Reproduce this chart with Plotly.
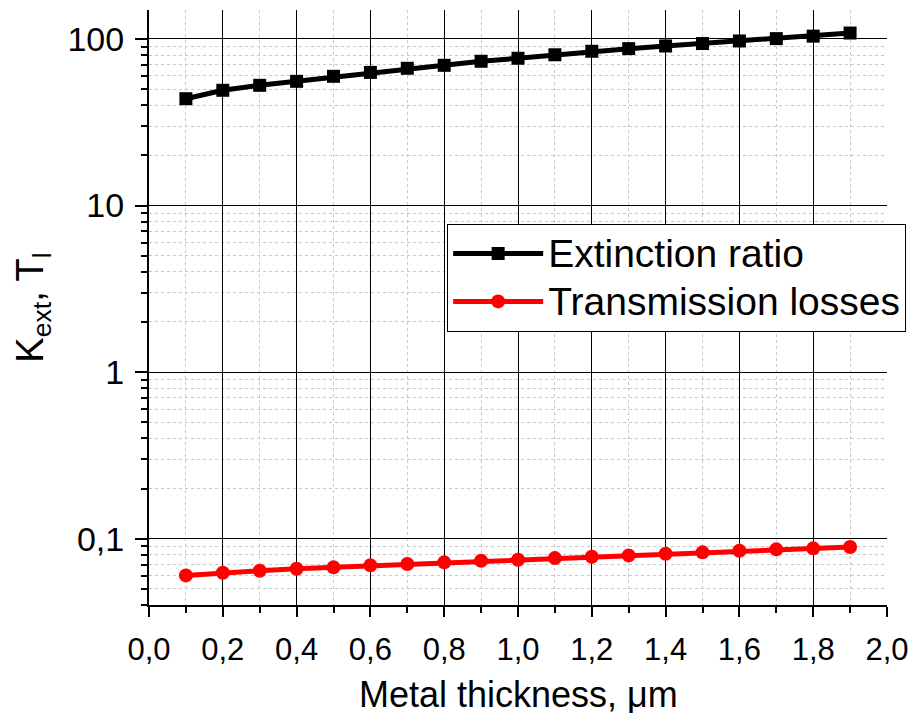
import plotly.graph_objects as go

thickness = [0.1, 0.2, 0.3, 0.4, 0.5, 0.6, 0.7, 0.8, 0.9, 1.0,
             1.1, 1.2, 1.3, 1.4, 1.5, 1.6, 1.7, 1.8, 1.9]
extinction_ratio = [43.8, 49.2, 52.7, 55.7, 59.7, 63.0, 66.7, 69.5, 73.5, 76.6,
                    80.4, 84.4, 87.5, 90.8, 93.9, 97.3, 100.5, 104.0, 108.6]
transmission_losses = [0.0602, 0.0625, 0.0642, 0.0660, 0.0673, 0.0692, 0.0705, 0.0721,
                       0.0738, 0.0748, 0.0765, 0.0780, 0.0794, 0.0813, 0.0828, 0.0847,
                       0.0863, 0.0875, 0.0891]
series_names = ["Extinction ratio", "Transmission losses"]
x_title = "Metal thickness, μm"
y_title = "K<sub>ext</sub>, T<sub>l</sub>"

x_tick_vals = [0.0, 0.2, 0.4, 0.6, 0.8, 1.0, 1.2, 1.4, 1.6, 1.8, 2.0]
x_minor_vals = [0.1, 0.3, 0.5, 0.7, 0.9, 1.1, 1.3, 1.5, 1.7, 1.9]
y_tick_vals = [0.1, 1, 10, 100]
y_tick_text = ["0,1", "1", "10", "100"]
y_minor_vals = [m * d for d in [0.01, 0.1, 1, 10, 100] for m in range(2, 10)]

FONT = "Liberation Sans, Arial, sans-serif"
LEG_TEXT = '<span style="font-size:39px">{}</span>'

fig = go.Figure()
fig.add_trace(go.Scatter(
    x=thickness, y=extinction_ratio, name=LEG_TEXT.format(series_names[0]),
    mode="lines+markers",
    line=dict(color="black", width=5),
    marker=dict(symbol="square", size=13, color="black"),
))
fig.add_trace(go.Scatter(
    x=thickness, y=transmission_losses, name=LEG_TEXT.format(series_names[1]),
    mode="lines+markers",
    line=dict(color="#ff0000", width=5),
    marker=dict(symbol="circle", size=14, color="#ff0000"),
))

fig.update_layout(
    width=916, height=713,
    margin=dict(l=149, r=25, t=10, b=108),
    paper_bgcolor="white", plot_bgcolor="white",
    separators=", ",
    font=dict(family=FONT, color="black"),
    showlegend=True,
    legend=dict(
        x=0.404, y=0.641, xanchor="left", yanchor="top",
        xref="paper", yref="paper",
        bordercolor="black", borderwidth=1, bgcolor="white",
        font=dict(size=34.5, family=FONT, color="black"),
        itemwidth=90,
        tracegroupgap=0,
    ),
    annotations=[dict(
        text=x_title, xref="paper", yref="paper", x=0.5, y=-0.1125,
        xanchor="center", yanchor="top", showarrow=False,
        font=dict(size=36, family=FONT, color="black"),
    )],
)

fig.update_xaxes(
    range=[0, 2.0],
    automargin=False,
    tickvals=x_tick_vals, tickformat=".1f",
    tickfont=dict(size=31, family=FONT, color="black"),
    ticks="outside", ticklen=10, tickwidth=2, tickcolor="black",
    showline=True, linecolor="black", linewidth=2,
    showgrid=True, gridcolor="black", gridwidth=1,
    zeroline=False,
    minor=dict(tickvals=x_minor_vals, ticks="outside", ticklen=6, tickwidth=2,
               tickcolor="black", showgrid=True, gridcolor="#c8c8c8",
               griddash="dot", gridwidth=1),
    ticklabelstandoff=6,
)
fig.update_yaxes(
    type="log",
    automargin=False,
    range=[-1.398, 2.174],
    tickvals=y_tick_vals, ticktext=y_tick_text,
    tickfont=dict(size=34, family=FONT, color="black"),
    ticks="outside", ticklen=12, tickwidth=2, tickcolor="black",
    showline=True, linecolor="black", linewidth=2,
    showgrid=True, gridcolor="black", gridwidth=1,
    zeroline=False,
    minor=dict(tickvals=y_minor_vals, ticks="outside", ticklen=6, tickwidth=2,
               tickcolor="black", showgrid=True, gridcolor="#c8c8c8",
               griddash="dot", gridwidth=1),
    title=dict(text=y_title, font=dict(size=38, family=FONT, color="black"),
               standoff=12),
    ticklabelstandoff=4,
)

fig.write_html("out.html")
